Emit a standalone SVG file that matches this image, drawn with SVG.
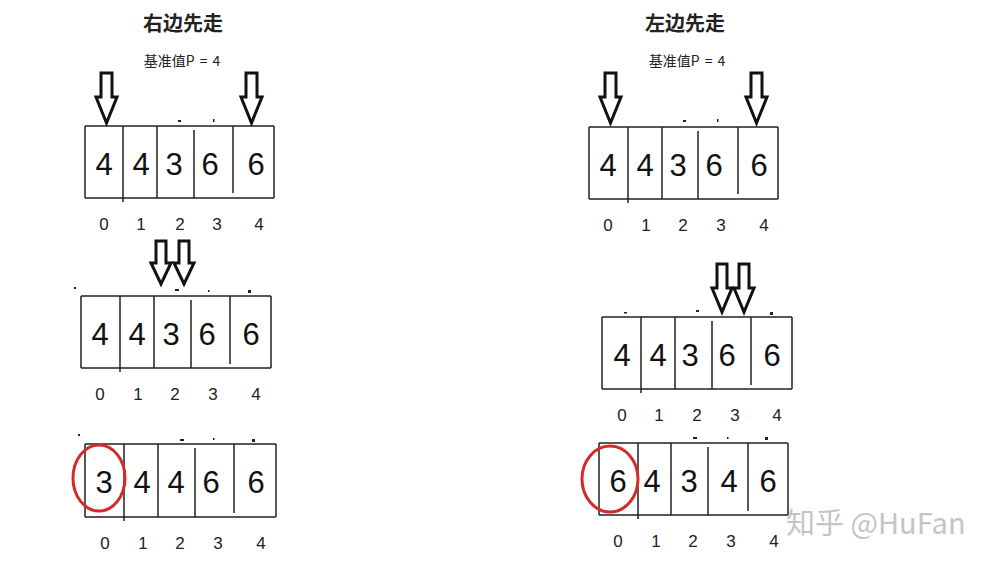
<svg xmlns="http://www.w3.org/2000/svg" width="1000" height="563" viewBox="0 0 1000 563">
<style>
.title{font-family:"Noto Sans CJK SC","Liberation Sans",sans-serif;font-weight:bold;font-size:20px;fill:#222;text-anchor:middle}
.sub{font-family:"Noto Sans CJK SC","Liberation Sans",sans-serif;font-size:14px;fill:#222;text-anchor:middle;word-spacing:2px}
.num{font-family:"Liberation Sans","DejaVu Sans",sans-serif;font-size:31px;fill:#111;text-anchor:middle}
.idx{font-family:"Liberation Sans","DejaVu Sans",sans-serif;font-size:17px;fill:#222;text-anchor:middle}
.cell{fill:none;stroke:#222;stroke-width:1.5}
.arrow{fill:#fff;stroke:#111;stroke-width:3;stroke-linejoin:miter}
.circ{fill:none;stroke:#d42a2a;stroke-width:3}
.wm{font-family:"Noto Sans CJK SC","Liberation Sans",sans-serif;font-size:29px;fill:#c4c4c4}
</style>
<rect width="1000" height="563" fill="#fff"/>

<g id="left-title">
<text class="title" x="183" y="31">右边先走</text>
<text class="sub" x="182" y="66">基准值P = 4</text>
</g>
<g id="right-title">
<text class="title" x="685" y="31">左边先走</text>
<text class="sub" x="687" y="66">基准值P = 4</text>
</g>

<g id="left-array-1">
<path class="cell" d="M85 126H274M85 198H274M85 126V198M123 126V202M157 126V198M194 130V198M233 126V193M274 126V198"/>
<text class="num" x="104" y="175">4</text><text class="num" x="141" y="175">4</text><text class="num" x="174" y="175">3</text><text class="num" x="210" y="175">6</text><text class="num" x="256" y="175">6</text>
<text class="idx" x="104" y="230">0</text><text class="idx" x="141" y="230">1</text><text class="idx" x="180" y="230">2</text><text class="idx" x="217" y="230">3</text><text class="idx" x="259" y="230">4</text>
</g>
<g id="right-array-1">
<path class="cell" d="M589 127H778M589 199H778M589 127V199M628 127V203M662 127V199M698 131V199M738 127V194M778 127V199"/>
<text class="num" x="608" y="176">4</text><text class="num" x="645" y="176">4</text><text class="num" x="678" y="176">3</text><text class="num" x="714" y="176">6</text><text class="num" x="759" y="176">6</text>
<text class="idx" x="608" y="231">0</text><text class="idx" x="646" y="231">1</text><text class="idx" x="683" y="231">2</text><text class="idx" x="721" y="231">3</text><text class="idx" x="764" y="231">4</text>
</g>
<g id="left-array-2">
<path class="cell" d="M81 296H271M81 368H271M81 296V368M120 296V372M154 296V368M191 300V368M230 296V364M271 296V368"/>
<text class="num" x="100" y="345">4</text><text class="num" x="137" y="345">4</text><text class="num" x="171" y="345">3</text><text class="num" x="207" y="345">6</text><text class="num" x="251" y="345">6</text>
<text class="idx" x="100" y="400">0</text><text class="idx" x="138" y="400">1</text><text class="idx" x="175" y="400">2</text><text class="idx" x="213" y="400">3</text><text class="idx" x="256" y="400">4</text>
</g>
<g id="right-array-2">
<path class="cell" d="M602 317H792M602 389H792M602 317V389M641 317V393M675 317V389M712 321V389M751 317V385M792 317V389"/>
<text class="num" x="622" y="366">4</text><text class="num" x="658" y="366">4</text><text class="num" x="690" y="366">3</text><text class="num" x="727" y="366">6</text><text class="num" x="772" y="366">6</text>
<text class="idx" x="622" y="421">0</text><text class="idx" x="659" y="421">1</text><text class="idx" x="697" y="421">2</text><text class="idx" x="735" y="421">3</text><text class="idx" x="777" y="421">4</text>
</g>
<g id="left-array-3">
<path class="cell" d="M85 444H276M85 517H276M85 444V517M124 444V521M158 444V517M195 448V517M234 444V513M276 444V517"/>
<text class="num" x="104" y="493">3</text><text class="num" x="142" y="493">4</text><text class="num" x="176" y="493">4</text><text class="num" x="211" y="493">6</text><text class="num" x="256" y="493">6</text>
<text class="idx" x="105" y="549">0</text><text class="idx" x="143" y="549">1</text><text class="idx" x="180" y="549">2</text><text class="idx" x="218" y="549">3</text><text class="idx" x="261" y="549">4</text>
<ellipse class="circ" cx="99" cy="478" rx="26" ry="33"/>
</g>
<g id="right-array-3">
<path class="cell" d="M599 443H788M599 515H788M599 443V515M638 443V519M671 443V515M708 447V515M748 443V511M788 443V515"/>
<text class="num" x="618" y="492">6</text><text class="num" x="652" y="492">4</text><text class="num" x="689" y="492">3</text><text class="num" x="729" y="492">4</text><text class="num" x="768" y="492">6</text>
<text class="idx" x="618" y="547">0</text><text class="idx" x="656" y="547">1</text><text class="idx" x="693" y="547">2</text><text class="idx" x="731" y="547">3</text><text class="idx" x="774" y="547">4</text>
<ellipse class="circ" cx="610" cy="479" rx="28" ry="33"/>
</g>

<g id="connectors">
<path class="arrow" d="M101 73H112V97H117L106.5 123L96 97H101Z"/>
<path class="arrow" d="M246 73H257V97H262L251.5 123L241 97H246Z"/>
<path class="arrow" d="M605 73H616V97H621L610.5 123L600 97H605Z"/>
<path class="arrow" d="M751 73H762V97H767L756.5 123L746 97H751Z"/>
<path class="arrow" d="M156 241H166V263H171L161 284L151 263H156Z"/>
<path class="arrow" d="M179 241H189V263H194L184 284L174 263H179Z"/>
<path class="arrow" d="M717 264H727V288H732L722 312L712 288H717Z"/>
<path class="arrow" d="M739 264H749V288H754L744 312L734 288H739Z"/>
</g>

<g id="marks" fill="#222">
<rect x="178" y="120" width="3" height="2"/><rect x="213" y="119" width="1.5" height="3"/>
<rect x="683" y="120" width="3" height="2"/><rect x="717" y="119" width="1.5" height="3"/>
<rect x="74" y="287" width="2" height="2"/><rect x="175" y="289" width="4" height="2"/><rect x="208" y="290" width="1.5" height="2"/><rect x="248" y="290" width="3" height="3"/>
<rect x="624" y="312" width="3" height="1.5"/><rect x="696" y="310" width="3" height="2"/><rect x="770" y="312" width="3" height="3"/>
<rect x="78" y="434" width="2" height="2"/><rect x="180" y="439" width="4" height="2"/><rect x="213" y="438" width="1.5" height="2"/><rect x="252" y="439" width="3" height="3"/>
<rect x="693" y="437" width="4" height="2"/><rect x="727" y="437" width="1.5" height="2"/><rect x="765" y="437" width="3" height="3"/>
</g>

<g id="watermark">
<text class="wm" x="786" y="534">知乎 @HuFan</text>
</g>
</svg>
